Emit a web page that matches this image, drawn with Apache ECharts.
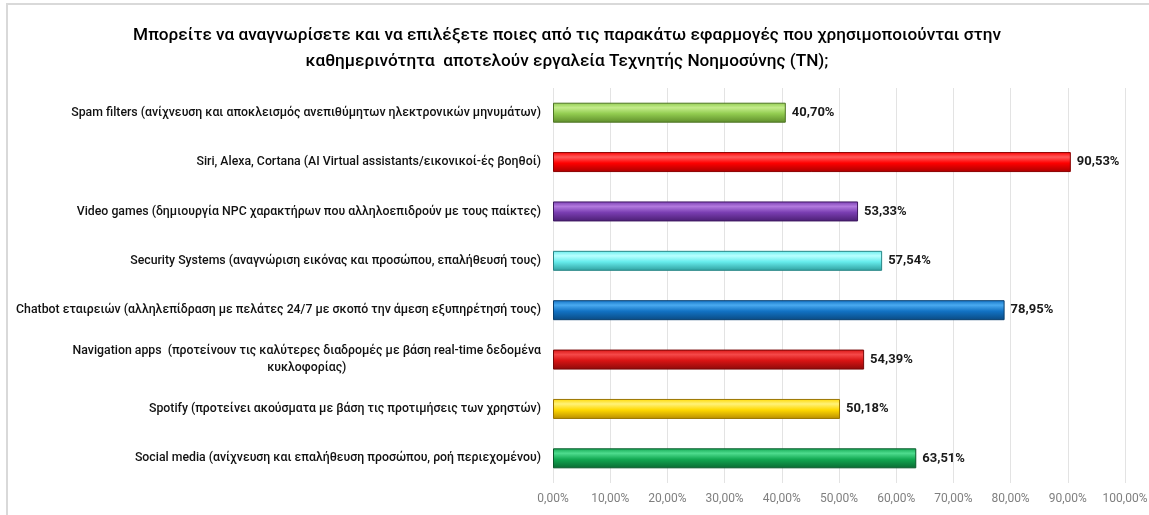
<!DOCTYPE html>
<html>
<head>
<meta charset="utf-8">
<script src="https://cdn.jsdelivr.net/npm/echarts@6/dist/echarts.min.js"></script>
<style>
html,body{margin:0;padding:0;background:#fff;}
#c{width:1149px;height:515px;}
</style>
</head>
<body>
<div id="c"></div>
<script>
var titleLines = [
  'Μπορείτε να αναγνωρίσετε και να επιλέξετε ποιες από τις παρακάτω εφαρμογές που χρησιμοποιούνται στην',
  'καθημερινότητα  αποτελούν εργαλεία Τεχνητής Νοημοσύνης (ΤΝ);'
];
var categories = [
  'Spam filters (ανίχνευση και αποκλεισμός ανεπιθύμητων ηλεκτρονικών μηνυμάτων)',
  'Siri, Alexa, Cortana (AI Virtual assistants/εικονικοί-ές βοηθοί)',
  'Video games (δημιουργία NPC χαρακτήρων που αλληλοεπιδρούν με τους παίκτες)',
  'Security Systems (αναγνώριση εικόνας και προσώπου, επαλήθευσή τους)',
  'Chatbot εταιρειών (αλληλεπίδραση με πελάτες 24/7 με σκοπό την άμεση εξυπηρέτησή τους)',
  'Navigation apps  (προτείνουν τις καλύτερες διαδρομές με βάση real-time δεδομένα\nκυκλοφορίας)',
  'Spotify (προτείνει ακούσματα με βάση τις προτιμήσεις των χρηστών)',
  'Social media (ανίχνευση και επαλήθευση προσώπου, ροή περιεχομένου)'
];
var values = [40.70, 90.53, 53.33, 57.54, 78.95, 54.39, 50.18, 63.51];
var xTicks = [0, 10, 20, 30, 40, 50, 60, 70, 80, 90, 100];
// [top highlight, middle, bottom shade, border]
var barColors = [
  ['#C4EC8C', '#92CC50', '#5E8C2A', '#4E7424'],
  ['#FF5A5A', '#FF0000', '#A80000', '#8A0000'],
  ['#B27ADE', '#7A3EB2', '#4A1E72', '#3E1860'],
  ['#B8FFFF', '#66ECEC', '#2E9E9E', '#268686'],
  ['#4AAAF0', '#1272C4', '#0A4A82', '#083E6E'],
  ['#F54848', '#D81414', '#8C0A0A', '#760808'],
  ['#FFF27A', '#FFD800', '#B88C00', '#9A7400'],
  ['#4EDC8E', '#12A852', '#0A6A32', '#08582A']
];

function fmt(v){ return v.toFixed(2).replace('.', ',') + '%'; }

var FONT = '"Roboto", sans-serif';

var chart = echarts.init(document.getElementById('c'), null, {renderer: 'canvas'});
var data = values.map(function(v, i){
  var c = barColors[i];
  return {
    value: v,
    itemStyle: {
      color: new echarts.graphic.LinearGradient(0, 0, 0, 1, [
        {offset: 0, color: c[1]},
        {offset: 0.25, color: c[0]},
        {offset: 0.55, color: c[1]},
        {offset: 1, color: c[2]}
      ]),
      borderColor: c[3],
      borderWidth: 1
    }
  };
});

chart.setOption({
  animation: false,
  backgroundColor: '#ffffff',
  title: {
    text: titleLines.join('\n'),
    left: 562,
    top: 18,
    textAlign: 'center',
    textStyle: {
      fontFamily: FONT,
      fontSize: 17.2,
      fontWeight: 500,
      color: '#000000',
      lineHeight: 26
    }
  },
  graphic: [{
    type: 'rect',
    shape: {x: 7, y: 4, width: 1160, height: 530},
    style: {fill: 'none', stroke: '#D9D9D9', lineWidth: 2},
    silent: true
  }],
  grid: {left: 553, right: 24, top: 88, bottom: 32, containLabel: false, outerBoundsMode: 'none'},
  xAxis: {
    type: 'value',
    min: 0, max: 100, interval: 10,
    axisLine: {show: false},
    axisTick: {show: false},
    splitLine: {show: true, lineStyle: {color: '#E3E3E3', width: 1}},
    axisLabel: {
      margin: 10,
      fontFamily: FONT,
      fontSize: 12,
      color: '#7F7F7F',
      formatter: function(v){ return fmt(v); }
    }
  },
  yAxis: {
    type: 'category',
    data: categories,
    inverse: true,
    axisLine: {show: false},
    axisTick: {show: false},
    axisLabel: {
      margin: 12,
      fontFamily: FONT,
      fontSize: 12.3,
      fontWeight: 500,
      color: '#111111',
      align: 'right',
      lineHeight: 17,
      formatter: function(v){
        var parts = v.split('\n');
        return parts.map(function(p){ return '{c|' + p + '}'; }).join('\n');
      },
      rich: {
        c: {align: 'center', fontFamily: FONT, fontSize: 12.3, fontWeight: 500, color: '#111111', lineHeight: 17}
      }
    }
  },
  series: [{
    type: 'bar',
    data: data,
    barWidth: 20,
    label: {
      show: true,
      position: 'right',
      distance: 6,
      fontFamily: FONT,
      fontSize: 13,
      fontWeight: 'bold',
      color: '#1a1a1a',
      formatter: function(p){ return fmt(p.value); }
    }
  }]
});
</script>
</body>
</html>
